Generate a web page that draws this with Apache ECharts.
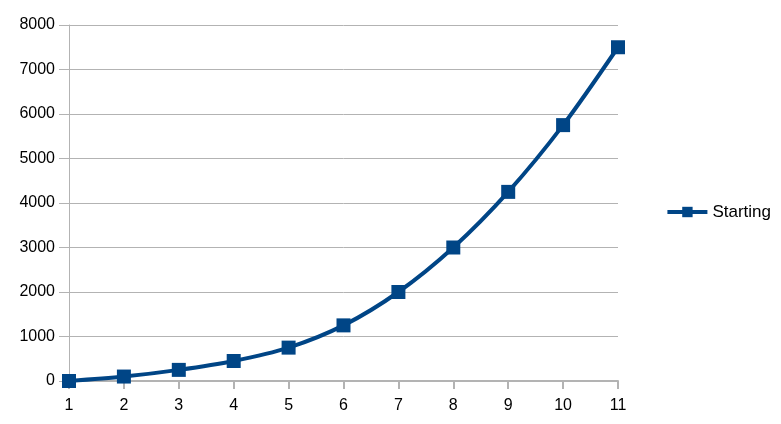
<!DOCTYPE html>
<html><head><meta charset="utf-8">
<script src="https://cdn.jsdelivr.net/npm/echarts@6/dist/echarts.min.js"></script>
<style>html,body{margin:0;padding:0;background:#fff}#c{width:781px;height:424px}</style>
</head><body><div id="c"></div>
<script>
const categories = [1, 2, 3, 4, 5, 6, 7, 8, 9, 10, 11];
const startingValues = [0, 100, 250, 450, 750, 1250, 2000, 3000, 4250, 5750, 7500];
const seriesName = 'Starting';

const chart = echarts.init(document.getElementById('c'), null, {renderer: 'canvas'});
const font = 'Liberation Sans';
chart.setOption({
  animation: false,
  grid: {left: 69, right: 163, top: 25, bottom: 43, containLabel: false},
  legend: {
    right: 5, top: 'middle', orient: 'vertical',
    data: [seriesName],
    itemWidth: 40, itemHeight: 13, itemGap: 5,
    lineStyle: {width: 4},
    textStyle: {fontFamily: font, fontSize: 17, color: '#000'}
  },
  xAxis: {
    type: 'value', min: 1, max: 11, interval: 1,
    axisLine: {show: true, lineStyle: {color: '#b3b3b3', width: 2}},
    axisTick: {show: true, length: 8, lineStyle: {color: '#b3b3b3', width: 2}},
    axisLabel: {fontFamily: font, fontSize: 16, color: '#000', margin: 17},
    splitLine: {show: false}
  },
  yAxis: {
    type: 'value', min: 0, max: 8000, interval: 1000,
    axisLine: {show: true, lineStyle: {color: '#b3b3b3', width: 1}},
    axisTick: {show: true, length: 10, lineStyle: {color: '#b3b3b3', width: 1}},
    axisLabel: {fontFamily: font, fontSize: 16, color: '#000', margin: 14, formatter: v => String(v)},
    splitLine: {show: true, lineStyle: {color: '#b3b3b3', width: 1}}
  },
  series: [{
    name: seriesName, type: 'line', smooth: 0.3,
    data: categories.map((c, i) => [c, startingValues[i]]),
    symbol: 'rect', symbolSize: 14,
    lineStyle: {color: '#004586', width: 4},
    itemStyle: {color: '#004586'}
  }]
});
</script></body></html>
